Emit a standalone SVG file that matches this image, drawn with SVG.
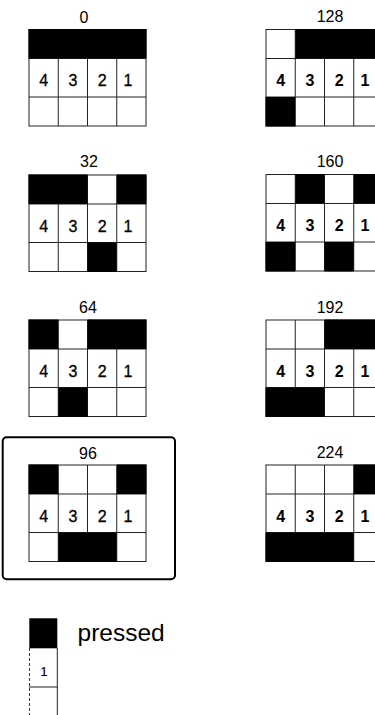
<svg xmlns="http://www.w3.org/2000/svg" width="375" height="715" viewBox="0 0 375 715">
<style>
.bg{fill:#fff}
.on{fill:#000}
.grid{fill:none;stroke:#222;stroke-width:1}
.ln{stroke:#222;stroke-width:1}
.dash{stroke:#333;stroke-width:1;stroke-dasharray:3 2}
.lbl{font-family:"Liberation Sans",Arial,sans-serif;font-size:16px;fill:#000;text-anchor:middle}
.dg{font-family:"Liberation Sans",Arial,sans-serif;font-size:16px;fill:#000;stroke:#000;stroke-width:0.3;text-anchor:middle}
.dgb{font-family:"Liberation Sans",Arial,sans-serif;font-size:16px;font-weight:bold;fill:#000;text-anchor:middle}
.leg{font-family:"Liberation Sans",Arial,sans-serif;font-size:24.5px;fill:#000}
.box{fill:none;stroke:#000;stroke-width:2}
</style>
<defs>
<g id="lines">
<rect class="grid" x="0" y="0" width="117" height="96.5"/>
<line class="ln" x1="0" y1="29" x2="117" y2="29"/>
<line class="ln" x1="0" y1="67.5" x2="117" y2="67.5"/>
<line class="ln" x1="29.25" y1="0" x2="29.25" y2="96.5"/>
<line class="ln" x1="58.5" y1="0" x2="58.5" y2="96.5"/>
<line class="ln" x1="87.75" y1="0" x2="87.75" y2="96.5"/>
</g>
<g id="digits">
<text class="dg" x="14.6" y="56.5">4</text>
<text class="dg" x="43.9" y="56.5">3</text>
<text class="dg" x="73.1" y="56.5">2</text>
<text class="dg" x="99" y="56.5">1</text>
</g>
<g id="digitsb">
<text class="dgb" x="14.6" y="56.5">4</text>
<text class="dgb" x="43.9" y="56.5">3</text>
<text class="dgb" x="73.1" y="56.5">2</text>
<text class="dgb" x="99" y="56.5">1</text>
</g>
</defs>
<rect class="bg" x="0" y="0" width="375" height="715"/>

<g id="connectors"></g>

<g id="n0" transform="translate(29,29.5)">
<text class="lbl" x="55" y="-7">0</text>
<use href="#lines"/>
<rect class="on" x="-0.5" y="-0.5" width="118" height="29.5"/>
<use href="#digits"/>
</g>

<g id="n32" transform="translate(29,175)">
<text class="lbl" x="60" y="-7.7">32</text>
<use href="#lines"/>
<rect class="on" x="-0.5" y="-0.5" width="59" height="29.5"/>
<rect class="on" x="87.75" y="-0.5" width="29.75" height="29.5"/>
<rect class="on" x="58.5" y="67.5" width="29.25" height="29.5"/>
<use href="#digits"/>
</g>

<g id="n64" transform="translate(29,320)">
<text class="lbl" x="59" y="-7.3">64</text>
<use href="#lines"/>
<rect class="on" x="-0.5" y="-0.5" width="29.75" height="29.5"/>
<rect class="on" x="58.5" y="-0.5" width="59" height="29.5"/>
<rect class="on" x="29.25" y="67.5" width="29.25" height="29.5"/>
<use href="#digits"/>
</g>

<g id="n96" transform="translate(29,465)">
<rect class="box" x="-26.3" y="-27.7" width="172.3" height="142" rx="4"/>
<text class="lbl" x="59" y="-5.7">96</text>
<use href="#lines"/>
<rect class="on" x="-0.5" y="-0.5" width="29.75" height="29.5"/>
<rect class="on" x="87.75" y="-0.5" width="29.75" height="29.5"/>
<rect class="on" x="29.25" y="67.5" width="58.5" height="29.5"/>
<use href="#digits"/>
</g>

<g id="n128" transform="translate(266,29.5)">
<text class="lbl" x="64" y="-7.8">128</text>
<use href="#lines"/>
<rect class="on" x="29.25" y="-0.5" width="88.25" height="29.5"/>
<rect class="on" x="-0.5" y="67.5" width="29.75" height="29.5"/>
<use href="#digitsb"/>
</g>

<g id="n160" transform="translate(266,174.5)">
<text class="lbl" x="64" y="-7.8">160</text>
<use href="#lines"/>
<rect class="on" x="29.25" y="-0.5" width="29.25" height="29.5"/>
<rect class="on" x="87.75" y="-0.5" width="29.75" height="29.5"/>
<rect class="on" x="-0.5" y="67.5" width="29.75" height="29.5"/>
<rect class="on" x="58.5" y="67.5" width="29.25" height="29.5"/>
<use href="#digitsb"/>
</g>

<g id="n192" transform="translate(266,320)">
<text class="lbl" x="64" y="-7.3">192</text>
<use href="#lines"/>
<rect class="on" x="58.5" y="-0.5" width="59" height="29.5"/>
<rect class="on" x="-0.5" y="67.5" width="59" height="29.5"/>
<use href="#digitsb"/>
</g>

<g id="n224" transform="translate(266,465)">
<text class="lbl" x="64" y="-6.7">224</text>
<use href="#lines"/>
<rect class="on" x="87.75" y="-0.5" width="29.75" height="29.5"/>
<rect class="on" x="-0.5" y="67.5" width="88.25" height="29.5"/>
<use href="#digitsb"/>
</g>

<g id="legend">
<rect class="on" x="29.3" y="618.3" width="28" height="30"/>
<line class="dash" x1="29.5" y1="648" x2="29.5" y2="715"/>
<line class="ln" x1="57.3" y1="648" x2="57.3" y2="715"/>
<line class="ln" x1="29" y1="687" x2="57.3" y2="687"/>
<text class="dg" x="44" y="676" style="font-size:12.5px;stroke-width:0.2">1</text>
<text class="leg" x="77.5" y="641">pressed</text>
</g>
</svg>
